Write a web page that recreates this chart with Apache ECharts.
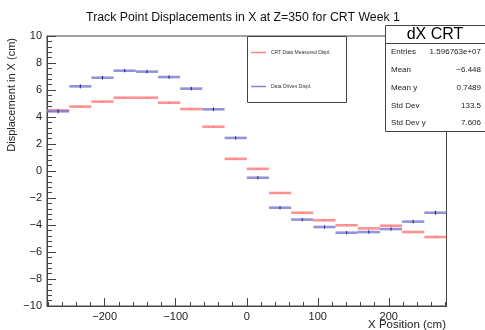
<!DOCTYPE html>
<html>
<head>
<meta charset="utf-8">
<script src="https://cdn.jsdelivr.net/npm/echarts@6/dist/echarts.min.js"></script>
<style>
  html, body { margin: 0; padding: 0; background: #fff; }
  #chart { width: 485px; height: 330px; }
</style>
</head>
<body>
<div id="chart"></div>
<script>
// Histogram bins along X (cm), 18 bins of width 31.25 from -281.25 to 281.25
const binWidth = 31.25;
const binCenters = [-265.625, -234.375, -203.125, -171.875, -140.625, -109.375, -78.125, -46.875, -15.625,
                    15.625, 46.875, 78.125, 109.375, 140.625, 171.875, 203.125, 234.375, 265.625];

// CRT data measured displacement (cm)
const measured = [4.49, 4.77, 5.14, 5.43, 5.43, 5.06, 4.59, 3.28, 0.90,
                  0.16, -1.63, -3.09, -3.65, -4.02, -4.25, -4.05, -4.52, -4.89];
const measuredErr = [0.06, 0.05, 0.05, 0.05, 0.05, 0.05, 0.05, 0.05, 0.05,
                     0.05, 0.05, 0.05, 0.05, 0.05, 0.05, 0.05, 0.05, 0.06];

// Data driven displacement (cm)
const driven = [4.42, 6.27, 6.91, 7.43, 7.36, 6.96, 6.10, 4.57, 2.45,
                -0.50, -2.72, -3.60, -4.15, -4.57, -4.52, -4.30, -3.75, -3.09];
const drivenErr = [0.15, 0.15, 0.13, 0.12, 0.13, 0.13, 0.13, 0.13, 0.12,
                   0.12, 0.12, 0.12, 0.12, 0.12, 0.12, 0.12, 0.13, 0.15];

// Axis ticks
const xMajorTicks = [-200, -100, 0, 100, 200];
const xMinorTicks = [-280, -260, -240, -220, -180, -160, -140, -120, -80, -60, -40, -20,
                     20, 40, 60, 80, 120, 140, 160, 180, 220, 240, 260, 280];

// Statistics box
const statsTitle = 'dX CRT';
const statsLabels = ['Entries', 'Mean', 'Mean y', 'Std Dev', 'Std Dev y'];
const statsValues = ['1.596763e+07', '\u22126.448', '0.7489', '133.5', '7.606'];

const legendNames = ['CRT Data Measured Displ.', 'Data Driven Displ.'];

const FONT = '"Liberation Sans", Arial, Helvetica, sans-serif';
const FRAME = '#444';

function rows(vals, errs) {
  return binCenters.map((x, i) => [x, vals[i], errs[i]]);
}

function makeRender(lineColor, errColor) {
  return function (params, api) {
    const x = api.value(0), y = api.value(1), e = api.value(2);
    const p0 = api.coord([x - binWidth / 2, y]);
    const p1 = api.coord([x + binWidth / 2, y]);
    const e0 = api.coord([x, y - e]);
    const e1 = api.coord([x, y + e]);
    return {
      type: 'group',
      children: [
        { type: 'line', shape: { x1: p0[0], y1: p0[1], x2: p1[0], y2: p1[1] },
          style: { stroke: lineColor, lineWidth: 2.6 } },
        { type: 'line', shape: { x1: e0[0], y1: e0[1], x2: e1[0], y2: e1[1] },
          style: { stroke: errColor, lineWidth: 1 } }
      ]
    };
  };
}

const gridL = 47, gridR = 446.5, gridT = 36, gridB = 306;

const chart = echarts.init(document.getElementById('chart'), null, { renderer: 'canvas' });

chart.setOption({
  animation: false,
  backgroundColor: '#fff',
  title: {
    text: 'Track Point Displacements in X at Z=350 for CRT Week 1',
    left: 238, top: 7, textAlign: 'center',
    textStyle: { fontFamily: FONT, fontSize: 12.3, fontWeight: 'normal', color: '#111' }
  },
  grid: { left: gridL, right: 485 - gridR, top: gridT, bottom: 330 - gridB, show: true,
          borderColor: FRAME, borderWidth: 1, backgroundColor: 'transparent' },
  xAxis: [
    {
      type: 'value', min: -281.25, max: 281.25, position: 'bottom',
      axisLine: { show: true, onZero: false, lineStyle: { color: FRAME, width: 1 } },
      splitLine: { show: false },
      axisTick: { show: true, inside: true, length: 8, customValues: xMajorTicks,
                  lineStyle: { color: FRAME } },
      axisLabel: { show: true, customValues: xMajorTicks, margin: 5,
                   fontFamily: FONT, fontSize: 11, color: '#222',
                   formatter: v => String(v).replace('-', '\u2212') }
    },
    {
      type: 'value', min: -281.25, max: 281.25, position: 'bottom',
      axisLine: { show: false, onZero: false },
      splitLine: { show: false },
      axisTick: { show: true, inside: true, length: 4, customValues: xMinorTicks,
                  lineStyle: { color: FRAME } },
      axisLabel: { show: false }
    }
  ],
  yAxis: {
    type: 'value', min: -10, max: 10, interval: 2,
    axisLine: { show: true, onZero: false, lineStyle: { color: FRAME, width: 1 } },
    splitLine: { show: false },
    axisTick: { show: true, inside: true, length: 9, lineStyle: { color: FRAME } },
    minorTick: { show: true, splitNumber: 5, length: 5, lineStyle: { color: FRAME } },
    minorSplitLine: { show: false },
    axisLabel: { margin: 5, fontFamily: FONT, fontSize: 11, color: '#222',
                 formatter: v => String(v).replace('-', '\u2212') }
  },
  series: [
    {
      name: legendNames[0], type: 'custom', xAxisIndex: 0, clip: true,
      renderItem: makeRender('rgba(255,120,120,0.8)', 'rgba(200,80,80,0.6)'),
      encode: { x: 0, y: 1 },
      data: rows(measured, measuredErr)
    },
    {
      name: legendNames[1], type: 'custom', xAxisIndex: 0, clip: true,
      renderItem: makeRender('rgba(120,120,205,0.8)', '#1a1a90'),
      encode: { x: 0, y: 1 },
      data: rows(driven, drivenErr)
    }
  ],
  graphic: [
    // legend box
    { type: 'rect', shape: { x: 247.5, y: 36.5, width: 99, height: 66 },
      style: { fill: '#fff', stroke: FRAME, lineWidth: 1 }, z: 10 },
    { type: 'line', shape: { x1: 251, y1: 52.5, x2: 266, y2: 52.5 },
      style: { stroke: 'rgba(255,120,120,0.9)', lineWidth: 1.5 }, z: 11 },
    { type: 'text', x: 271, y: 52.5, z: 11,
      style: { text: legendNames[0], font: '5px ' + FONT, fill: '#333', verticalAlign: 'middle' } },
    { type: 'line', shape: { x1: 251, y1: 86.5, x2: 266, y2: 86.5 },
      style: { stroke: 'rgba(120,120,205,0.9)', lineWidth: 1.5 }, z: 11 },
    { type: 'text', x: 271, y: 86.5, z: 11,
      style: { text: legendNames[1], font: '5px ' + FONT, fill: '#333', verticalAlign: 'middle' } },
    // statistics box
    { type: 'rect', shape: { x: 385.5, y: 25.5, width: 110, height: 106 },
      style: { fill: '#fff', stroke: FRAME, lineWidth: 1 }, z: 10 },
    { type: 'line', shape: { x1: 385.5, y1: 43.5, x2: 495, y2: 43.5 },
      style: { stroke: FRAME, lineWidth: 1 }, z: 11 },
    { type: 'text', x: 435, y: 34.5, z: 11,
      style: { text: statsTitle, font: '16px ' + FONT, fill: '#000', align: 'center', verticalAlign: 'middle' } },
    ...statsLabels.map((t, i) => ({
      type: 'text', x: 391, y: 52 + i * 17.8, z: 11,
      style: { text: t, font: '8px ' + FONT, fill: '#222', verticalAlign: 'middle' }
    })),
    ...statsValues.map((t, i) => ({
      type: 'text', x: 481, y: 52 + i * 17.8, z: 11,
      style: { text: t, font: '8px ' + FONT, fill: '#222', align: 'right', verticalAlign: 'middle' }
    })),
    // axis titles
    { type: 'text', x: 12, y: 38, rotation: Math.PI / 2, z: 11,
      style: { text: 'Displacement in X (cm)', font: '11px ' + FONT, fill: '#222',
               align: 'right', verticalAlign: 'middle' } },
    { type: 'text', x: 446, y: 325, z: 11,
      style: { text: 'X Position (cm)', font: '11.5px ' + FONT, fill: '#222',
               align: 'right', verticalAlign: 'middle' } }
  ]
});
</script>
</body>
</html>
